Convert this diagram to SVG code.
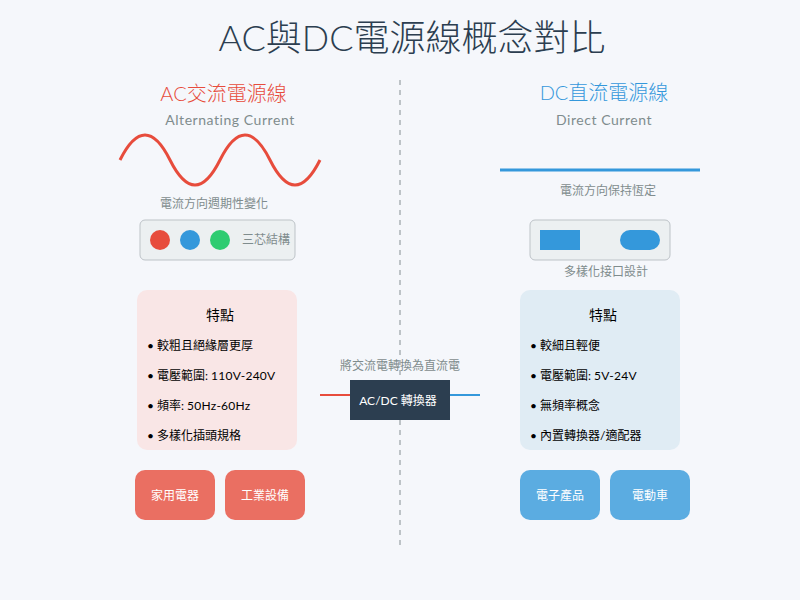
<svg xmlns="http://www.w3.org/2000/svg" width="800" height="600" viewBox="0 0 800 600">
<style>
text{font-family:Lato,"Noto Sans CJK TC",sans-serif;text-anchor:middle;font-weight:400}
.grey{fill:#7f8c8d}
.small{font-size:12px}
.sub{font-size:14px;letter-spacing:.55px}
.head{font-size:20px;font-weight:300}
.title{font-size:36px;font-weight:300;fill:#2c3e50}
.li{font-size:12px;fill:#000;text-anchor:start}
.lat{letter-spacing:.25px}
.ft{font-size:14px;fill:#000}
.app{font-size:12px;fill:#fff}
.panel{fill:#ecf0f1;stroke:#bdc3c7;stroke-width:1}
</style>
<rect width="800" height="600" fill="#f5f7fb"/>
<text x="412" y="51" class="title">AC與DC電源線概念對比</text>
<g id="connectors">
<line x1="400" y1="80" x2="400" y2="550" stroke="#bdc3c7" stroke-width="2" stroke-dasharray="5,5"/>
<line x1="320" y1="395" x2="350" y2="395" stroke="#e74c3c" stroke-width="2"/>
<line x1="450" y1="395" x2="480" y2="395" stroke="#3498db" stroke-width="2"/>
</g>
<g id="ac-header">
<text x="223.500" y="101" class="head" fill="#e74c3c">AC交流電源線</text>
<text x="230" y="125" class="sub grey">Alternating Current</text>
</g>
<g id="ac-wave">
<path d="M120,160 Q145,110 170,160 T220,160 T270,160 T320,160" fill="none" stroke="#e74c3c" stroke-width="3"/>
<text x="214" y="208" class="small grey">電流方向週期性變化</text>
</g>
<g id="ac-plug">
<rect x="140" y="220" width="155" height="40" rx="5" class="panel"/>
<circle cx="160" cy="240" r="10" fill="#e74c3c"/>
<circle cx="190" cy="240" r="10" fill="#3498db"/>
<circle cx="220" cy="240" r="10" fill="#2ecc71"/>
<text x="266" y="244" class="small grey">三芯結構</text>
</g>
<g id="ac-features">
<rect x="137" y="290" width="160" height="160" rx="10" fill="#f9e6e6"/>
<text x="220" y="320" class="ft">特點</text>
<text x="147" y="350" class="li">• 較粗且絕緣層更厚</text>
<text x="147" y="380" class="li">• 電壓範圍: <tspan class="lat">110V-240V</tspan></text>
<text x="147" y="410" class="li">• 頻率: <tspan class="lat">50Hz-60Hz</tspan></text>
<text x="147" y="440" class="li">• 多樣化插頭規格</text>
</g>
<g id="app-home">
<rect x="135" y="470" width="80" height="50" rx="10" fill="#e74c3c" fill-opacity="0.8"/>
<text x="175" y="500" class="app">家用電器</text>
</g>
<g id="app-industry">
<rect x="225" y="470" width="80" height="50" rx="10" fill="#e74c3c" fill-opacity="0.8"/>
<text x="265" y="500" class="app">工業設備</text>
</g>
<g id="dc-header">
<text x="604" y="100" class="head" fill="#3498db">DC直流電源線</text>
<text x="604" y="125" class="sub grey">Direct Current</text>
</g>
<g id="dc-wave">
<line x1="500" y1="170" x2="700" y2="170" stroke="#3498db" stroke-width="3"/>
<text x="608" y="195" class="small grey">電流方向保持恆定</text>
</g>
<g id="dc-plug">
<rect x="530" y="220" width="140" height="40" rx="5" class="panel"/>
<rect x="540" y="230" width="40" height="20" fill="#3498db"/>
<rect x="620" y="230" width="40" height="20" rx="10" fill="#3498db"/>
<text x="606" y="276" class="small grey">多樣化接口設計</text>
</g>
<g id="dc-features">
<rect x="520" y="290" width="160" height="160" rx="10" fill="#e0ecf4"/>
<text x="603" y="320" class="ft">特點</text>
<text x="530" y="350" class="li">• 較細且輕便</text>
<text x="530" y="380" class="li">• 電壓範圍: <tspan class="lat">5V-24V</tspan></text>
<text x="530" y="410" class="li">• 無頻率概念</text>
<text x="530" y="440" class="li">• 內置轉換器/適配器</text>
</g>
<g id="app-electronics">
<rect x="520" y="470" width="80" height="50" rx="10" fill="#3498db" fill-opacity="0.8"/>
<text x="560" y="500" class="app">電子產品</text>
</g>
<g id="app-ev">
<rect x="610" y="470" width="80" height="50" rx="10" fill="#3498db" fill-opacity="0.8"/>
<text x="650" y="500" class="app">電動車</text>
</g>
<g id="converter">
<text x="400" y="370" class="small grey">將交流電轉換為直流電</text>
<rect x="350" y="380" width="100" height="40" fill="#2c3e50"/>
<text x="398" y="405" class="app">AC/DC 轉換器</text>
</g>
</svg>
